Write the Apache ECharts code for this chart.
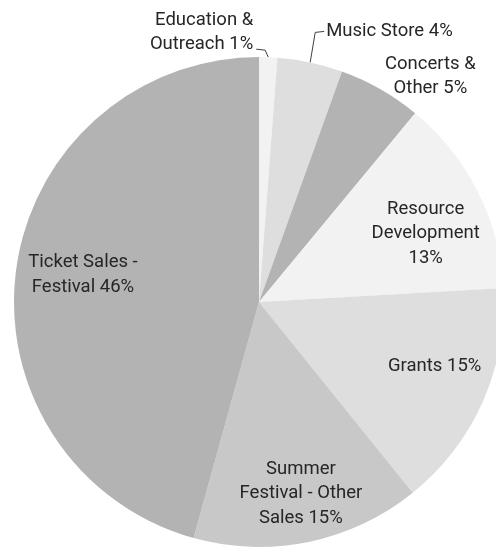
<!DOCTYPE html>
<html><head><meta charset="utf-8">
<script src="https://cdn.jsdelivr.net/npm/echarts@6/dist/echarts.min.js"></script>
<style>html,body{margin:0;padding:0;background:#fff}#c{width:496px;height:548px}</style>
</head><body><div id="c"></div>
<script>
const categories = ['Education & Outreach', 'Music Store', 'Concerts & Other', 'Resource Development', 'Grants', 'Summer Festival - Other Sales', 'Ticket Sales - Festival'];
const shares = [1.2, 4.3, 5.5, 13.1, 15.1, 15.1, 45.7];
const sliceLabels = ['Education &\nOutreach 1%', 'Music Store 4%', 'Concerts &\nOther 5%', 'Resource\nDevelopment\n13%', 'Grants 15%', 'Summer\nFestival - Other\nSales 15%', 'Ticket Sales -\nFestival 46%'];
const sliceColors = ['#f2f2f2', '#dedede', '#b3b3b3', '#f2f2f2', '#dedede', '#c8c8c8', '#b3b3b3'];

const FONT = 'Roboto';
const TEXT = '#262626';
const FS = 18.5;
const LH = 24.5;
const CENTER = [259, 302];
const R = 245;
// small nudges of inside labels from their mid-radius anchor
const insideNudge = {3: [0, 16], 4: [5, -11], 5: [4, 9], 6: [9, -2]};

const chart = echarts.init(document.getElementById('c'), null, {renderer: 'canvas'});
chart.setOption({
  animation: false,
  backgroundColor: '#ffffff',
  series: [
    {
      type: 'pie',
      center: CENTER,
      radius: R,
      startAngle: 90,
      clockwise: true,
      avoidLabelOverlap: false,
      emphasis: {disabled: true},
      data: categories.map((n, i) => ({
        name: n, value: shares[i],
        itemStyle: {color: sliceColors[i]},
        label: {show: i < 3},
        labelLine: {show: i < 3, lineStyle: {opacity: i === 2 ? 0 : 1}}
      })),
      label: {
        position: 'outside',
        formatter: p => sliceLabels[p.dataIndex],
        color: TEXT, fontFamily: FONT, fontSize: FS, lineHeight: LH
      },
      labelLine: {length: 20, length2: 9, lineStyle: {color: '#404040', width: 1}},
      labelLayout: function (p) {
        const pts = p.labelLinePoints;
        if (!pts) return {};
        const p0 = pts[0];
        if (p.dataIndex === 0) {
          return {
            x: p0[0] - 15, y: p0[1] - 25, align: 'right', verticalAlign: 'middle',
            labelLinePoints: [p0, [p0[0] - 3, p0[1] - 7], [p0[0] - 12, p0[1] - 8]]
          };
        } else if (p.dataIndex === 1) {
          return {
            x: p0[0] + 16, y: p0[1] - 31, align: 'left', verticalAlign: 'middle',
            labelLinePoints: [p0, [p0[0] + 5, p0[1] - 30], [p0[0] + 14, p0[1] - 31]]
          };
        } else if (p.dataIndex === 2) {
          return {
            x: p0[0] + 50, y: p0[1] - 13, align: 'center', verticalAlign: 'middle',
            labelLinePoints: [p0, p0, p0]
          };
        }
        return {};
      }
    },
    {
      type: 'pie',
      center: CENTER,
      radius: R * 1.5,
      startAngle: 90,
      clockwise: true,
      silent: true,
      avoidLabelOverlap: false,
      itemStyle: {color: 'rgba(0,0,0,0)'},
      data: categories.map((n, i) => ({
        name: n, value: shares[i],
        label: {show: i >= 3, offset: insideNudge[i] || [0, 0]}
      })),
      label: {
        position: 'inside',
        formatter: p => sliceLabels[p.dataIndex],
        color: TEXT, fontFamily: FONT, fontSize: FS, lineHeight: LH, align: 'center'
      },
      labelLine: {show: false}
    }
  ]
});
</script></body></html>
